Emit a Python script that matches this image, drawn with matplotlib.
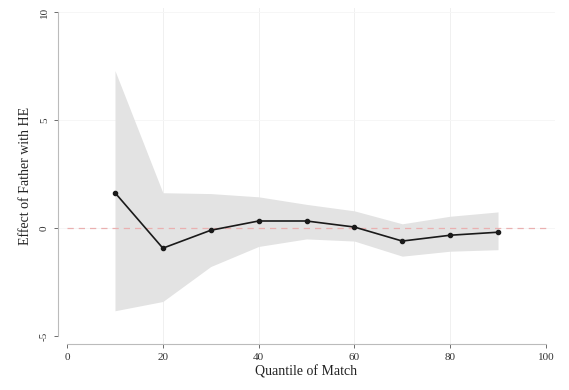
import numpy as np
import matplotlib
matplotlib.use("Agg")
from matplotlib import pyplot as plt

quantiles = [10, 20, 30, 40, 50, 60, 70, 80, 90]
effect = [1.64, -0.93, -0.1, 0.33, 0.33, 0.05, -0.6, -0.33, -0.19]
ci_upper = [7.3, 1.64, 1.6, 1.45, 1.1, 0.8, 0.2, 0.55, 0.75]
ci_lower = [-3.83, -3.4, -1.78, -0.85, -0.5, -0.6, -1.3, -1.07, -1.0]

x_ticks = [0, 20, 40, 60, 80, 100]
y_ticks = [-5, 0, 5, 10]

plt.rcParams['font.family'] = ['Liberation Serif', 'DejaVu Serif']

fig = plt.figure(figsize=(5.69, 3.90), dpi=100)
ax = fig.add_axes([58 / 569, 1 - 344 / 390, (555 - 58) / 569, (344 - 8) / 390])

# faint grid
for xt in x_ticks[1:-1]:
    ax.axvline(xt, color='#f0f0f0', lw=0.7, zorder=0)
for yt in y_ticks[1:]:
    ax.axhline(yt, color='#f6f6f6', lw=0.7, zorder=0)

ax.fill_between(quantiles, ci_lower, ci_upper, color='#e3e3e3', lw=0, zorder=1)
ax.plot([0, 100], [0, 0], color='#eab0b0', lw=0.9, ls=(0, (5, 4)), zorder=2)
ax.plot(quantiles, effect, color='#1a1a1a', lw=1.2, marker='o', ms=3, zorder=3)

ax.set_xlim(-1.9, 101.9)
ax.set_ylim(-5.37, 10.2)
ax.set_xticks(x_ticks)
ax.set_yticks(y_ticks)
ax.set_yticklabels([str(v) for v in y_ticks], rotation=90, va='center')

for side in ['top', 'right']:
    ax.spines[side].set_visible(False)
for side in ['left', 'bottom']:
    ax.spines[side].set_color('#bbbbbb')
    ax.spines[side].set_linewidth(0.8)
ax.spines['left'].set_bounds(-5, 10)
ax.spines['bottom'].set_bounds(0, 100)

ax.tick_params(colors='#555555', labelsize=8, length=3, width=0.6)
ax.tick_params(axis='x', labelcolor='#333333')
ax.tick_params(axis='y', labelcolor='#333333')

ax.set_xlabel('Quantile of Match', fontsize=10, color='#222222', labelpad=2)
ax.set_ylabel('Effect of Father with HE', fontsize=10, color='#222222', labelpad=6)

plt.savefig('out.png', dpi=100, facecolor='white')
